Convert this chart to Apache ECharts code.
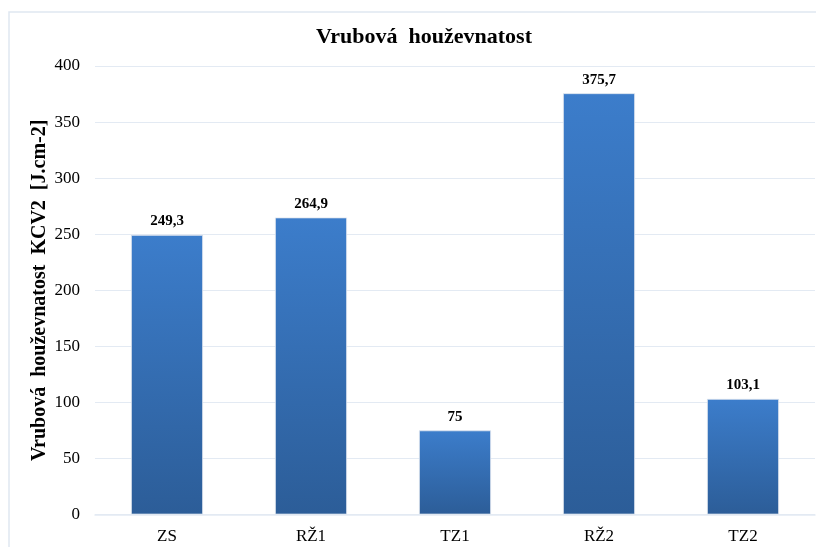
<!DOCTYPE html>
<html>
<head>
<meta charset="utf-8">
<script src="https://cdn.jsdelivr.net/npm/echarts@6/dist/echarts.min.js"></script>
<style>
  html, body { margin: 0; padding: 0; background: #ffffff; }
  #chart { width: 816px; height: 547px; }
</style>
</head>
<body>
<div id="chart"></div>
<script>
// Notch toughness per sample
const categories = ['ZS', 'RŽ1', 'TZ1', 'RŽ2', 'TZ2'];
const values = [249.3, 264.9, 75, 375.7, 103.1];
const yTicks = [0, 50, 100, 150, 200, 250, 300, 350, 400];

const serif = '"Liberation Serif", "Times New Roman", serif';
const chart = echarts.init(document.getElementById('chart'));

chart.setOption({
  animation: false,
  backgroundColor: '#ffffff',
  graphic: [{
    type: 'rect',
    shape: { x: 9, y: 12, width: 830, height: 560 },
    style: { fill: 'none', stroke: '#dfe7f1', lineWidth: 1.5 },
    silent: true
  }],
  title: {
    text: 'Vrubová  houževnatost',
    left: 419,
    top: 21,
    textAlign: 'center',
    textStyle: { fontFamily: serif, fontWeight: 'bold', fontSize: 22, color: '#000' }
  },
  grid: { left: 95, right: 1, top: 66, bottom: 32.5, containLabel: false },
  xAxis: {
    type: 'category',
    data: categories,
    axisLine: { show: true, lineStyle: { color: '#e3eaf3', width: 1.5 } },
    axisTick: { show: false },
    axisLabel: { fontFamily: serif, fontSize: 17, color: '#000', margin: 14 }
  },
  yAxis: {
    type: 'value',
    min: yTicks[0],
    max: yTicks[yTicks.length - 1],
    interval: yTicks[1] - yTicks[0],
    name: 'Vrubová  houževnatost  KCV2  [J.cm-2]',
    nameLocation: 'middle',
    nameGap: 45,
    nameMoveOverlap: false,
    nameTextStyle: { fontFamily: serif, fontWeight: 'bold', fontSize: 20, color: '#000' },
    axisLine: { show: false },
    axisTick: { show: false },
    splitLine: { lineStyle: { color: '#e3eaf3', width: 1.2 } },
    axisLabel: { fontFamily: serif, fontSize: 17, color: '#000', margin: 15 }
  },
  series: [{
    type: 'bar',
    data: values,
    barWidth: 72,
    itemStyle: {
      color: new echarts.graphic.LinearGradient(0, 0, 0, 1, [
        { offset: 0, color: '#3c7dcb' },
        { offset: 1, color: '#2c5d98' }
      ]),
      borderColor: '#dfe6ef',
      borderWidth: 0.8
    },
    label: {
      show: true,
      position: 'top',
      distance: 6,
      fontFamily: serif,
      fontWeight: 'bold',
      fontSize: 15,
      color: '#000',
      formatter: p => String(p.value).replace('.', ',')
    }
  }]
});
</script>
</body>
</html>
